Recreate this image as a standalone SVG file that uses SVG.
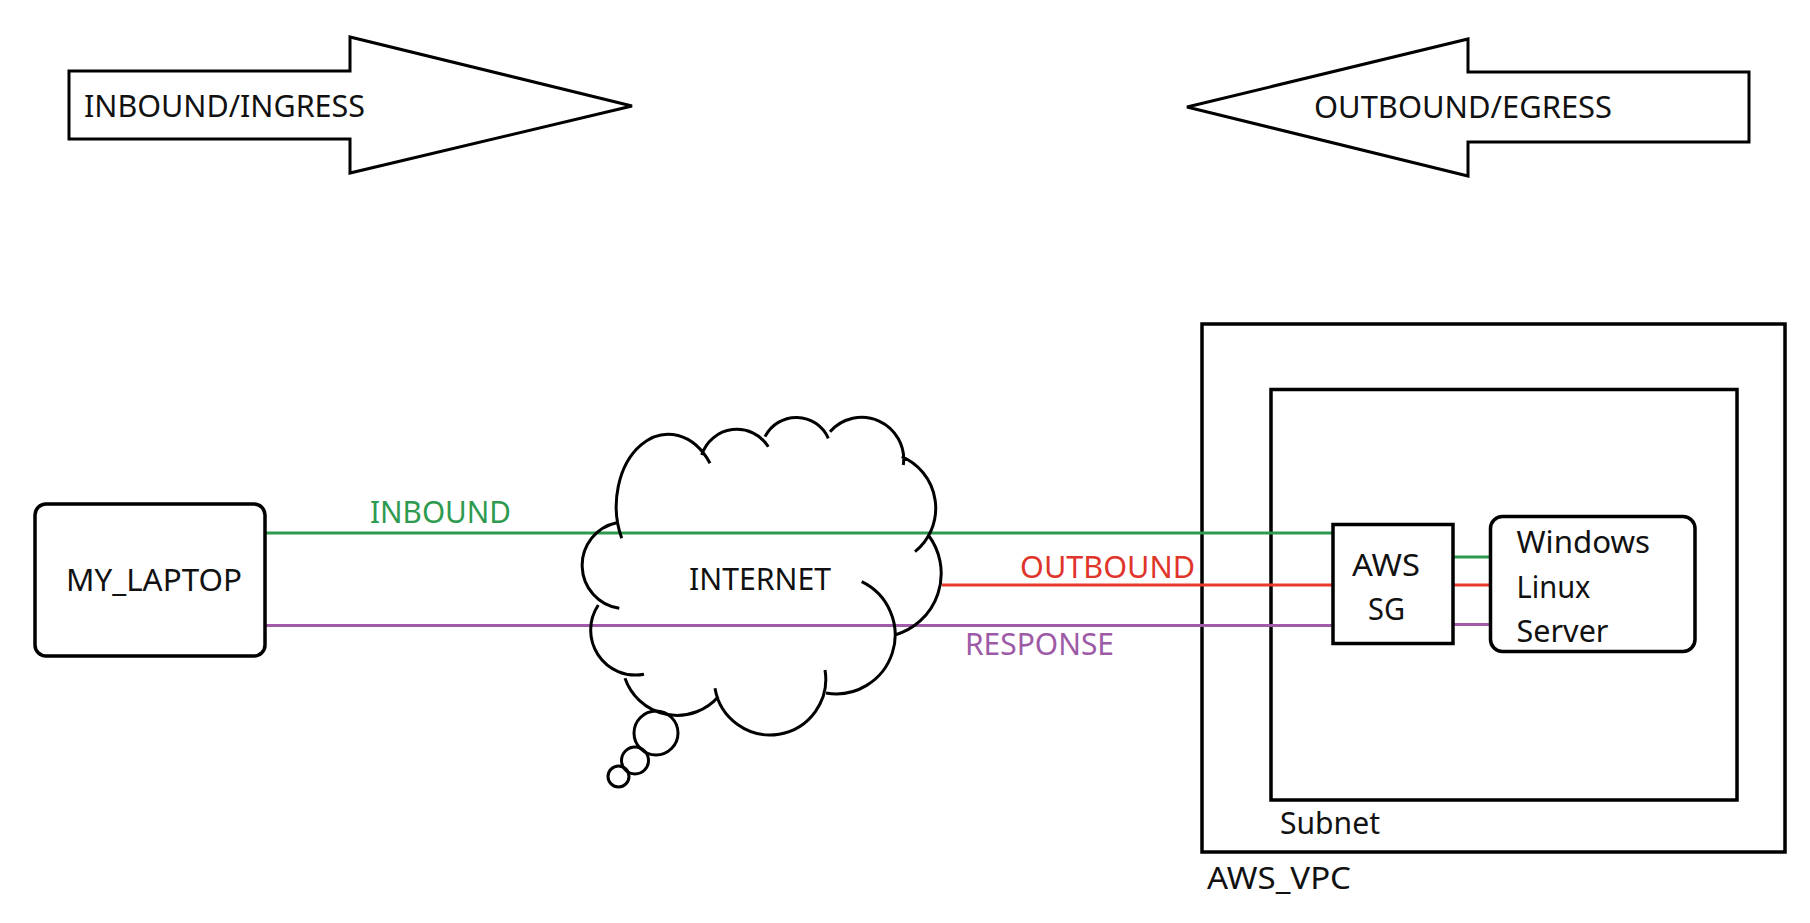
<svg xmlns="http://www.w3.org/2000/svg" width="1810" height="923" viewBox="0 0 1810 923">
<style>
text{font-family:"Noto Sans","Open Sans","DejaVu Sans",sans-serif;font-size:30px;fill:#111}
.shape{fill:none;stroke:#000;stroke-width:3.5}
.thin{fill:none;stroke:#000;stroke-width:3}
.g{stroke:#2e9a4f;stroke-width:3.2;fill:none}
.r{stroke:#e8392c;stroke-width:3.2;fill:none}
.p{stroke:#a15ca9;stroke-width:3.2;fill:none}
.tg{fill:#2e9a4f}
.tr{fill:#e0352b}
.tp{fill:#9d5aa6}
</style>
<rect width="1810" height="923" fill="#fff"/>
<g id="arrow-inbound">
<polygon class="thin" points="69,71 350,71 350,37 632,106 350,173 350,139 69,139"/>
<text x="84" y="117" textLength="281" lengthAdjust="spacingAndGlyphs">INBOUND/INGRESS</text>
</g>
<g id="arrow-outbound">
<polygon class="thin" points="1749,72 1468,72 1468,39 1187,107 1468,176 1468,142 1749,142"/>
<text x="1314" y="118" textLength="298" lengthAdjust="spacingAndGlyphs">OUTBOUND/EGRESS</text>
</g>
<g id="vpc">
<rect class="shape" x="1202" y="324" width="583" height="528"/>
<text x="1207" y="889" textLength="144" lengthAdjust="spacingAndGlyphs">AWS_VPC</text>
</g>
<g id="subnet">
<rect class="shape" x="1271" y="389.5" width="466" height="410.5"/>
<text x="1280" y="834" textLength="100" lengthAdjust="spacingAndGlyphs">Subnet</text>
</g>
<g id="connectors">
<line class="g" x1="265" y1="533" x2="1333" y2="533"/>
<line class="r" x1="942" y1="585" x2="1333" y2="585"/>
<line class="p" x1="265" y1="625.5" x2="1333" y2="625.5"/>
<line class="g" x1="1453" y1="557" x2="1491" y2="557"/>
<line class="r" x1="1453" y1="585" x2="1491" y2="585"/>
<line class="p" x1="1453" y1="624.5" x2="1491" y2="624.5"/>
<text class="tg" x="370" y="523" textLength="141" lengthAdjust="spacingAndGlyphs">INBOUND</text>
<text class="tr" x="1020" y="578" textLength="175" lengthAdjust="spacingAndGlyphs">OUTBOUND</text>
<text class="tp" x="965" y="655" textLength="149" lengthAdjust="spacingAndGlyphs">RESPONSE</text>
</g>
<g id="my-laptop">
<rect class="shape" x="35" y="504" width="230" height="152" rx="11"/>
<text x="66" y="591" textLength="176" lengthAdjust="spacingAndGlyphs">MY_LAPTOP</text>
</g>
<g id="internet">
<path class="thin" d="M619.3,608.3 A43.5,43.5 0 0 1 616.7,522.7
M621.7,538.3 A52,72 0 0 1 710,463.3
M701.7,455 A37,37 0 0 1 768.3,446.7
M765,436.7 A35,35 0 0 1 828.3,438.3
M830,431.7 A42,42 0 0 1 903.3,465
M901.7,456.7 A56,56 0 0 1 915,551.7
M928.3,535 A64,64 0 0 1 895,635
M861.7,581.7 A59,59 0 0 1 826,693
M825,670 A55.5,55.5 0 0 1 715,688.3
M718.3,696.7 A55,55 0 0 1 625,678.3
M598.3,605 A45,45 0 0 0 644,674.3"/>
<circle class="thin" cx="656" cy="733" r="22"/>
<circle class="thin" cx="635" cy="760.5" r="13.5"/>
<circle class="thin" cx="618.5" cy="776.5" r="10.5"/>
<text x="689" y="590" textLength="142" lengthAdjust="spacingAndGlyphs">INTERNET</text>
</g>
<g id="aws-sg">
<rect class="shape" x="1333" y="524.5" width="120" height="119" fill="#fff"/>
<text x="1352" y="576" textLength="68" lengthAdjust="spacingAndGlyphs">AWS</text>
<text x="1368" y="619.5" textLength="37" lengthAdjust="spacingAndGlyphs">SG</text>
</g>
<g id="server">
<rect class="shape" x="1490.5" y="516.5" width="204.5" height="135" rx="12"/>
<text x="1516.5" y="553" textLength="133.5" lengthAdjust="spacingAndGlyphs">Windows</text>
<text x="1516.5" y="598" textLength="74" lengthAdjust="spacingAndGlyphs">Linux</text>
<text x="1516.5" y="641.5" textLength="92" lengthAdjust="spacingAndGlyphs">Server</text>
</g>
</svg>
